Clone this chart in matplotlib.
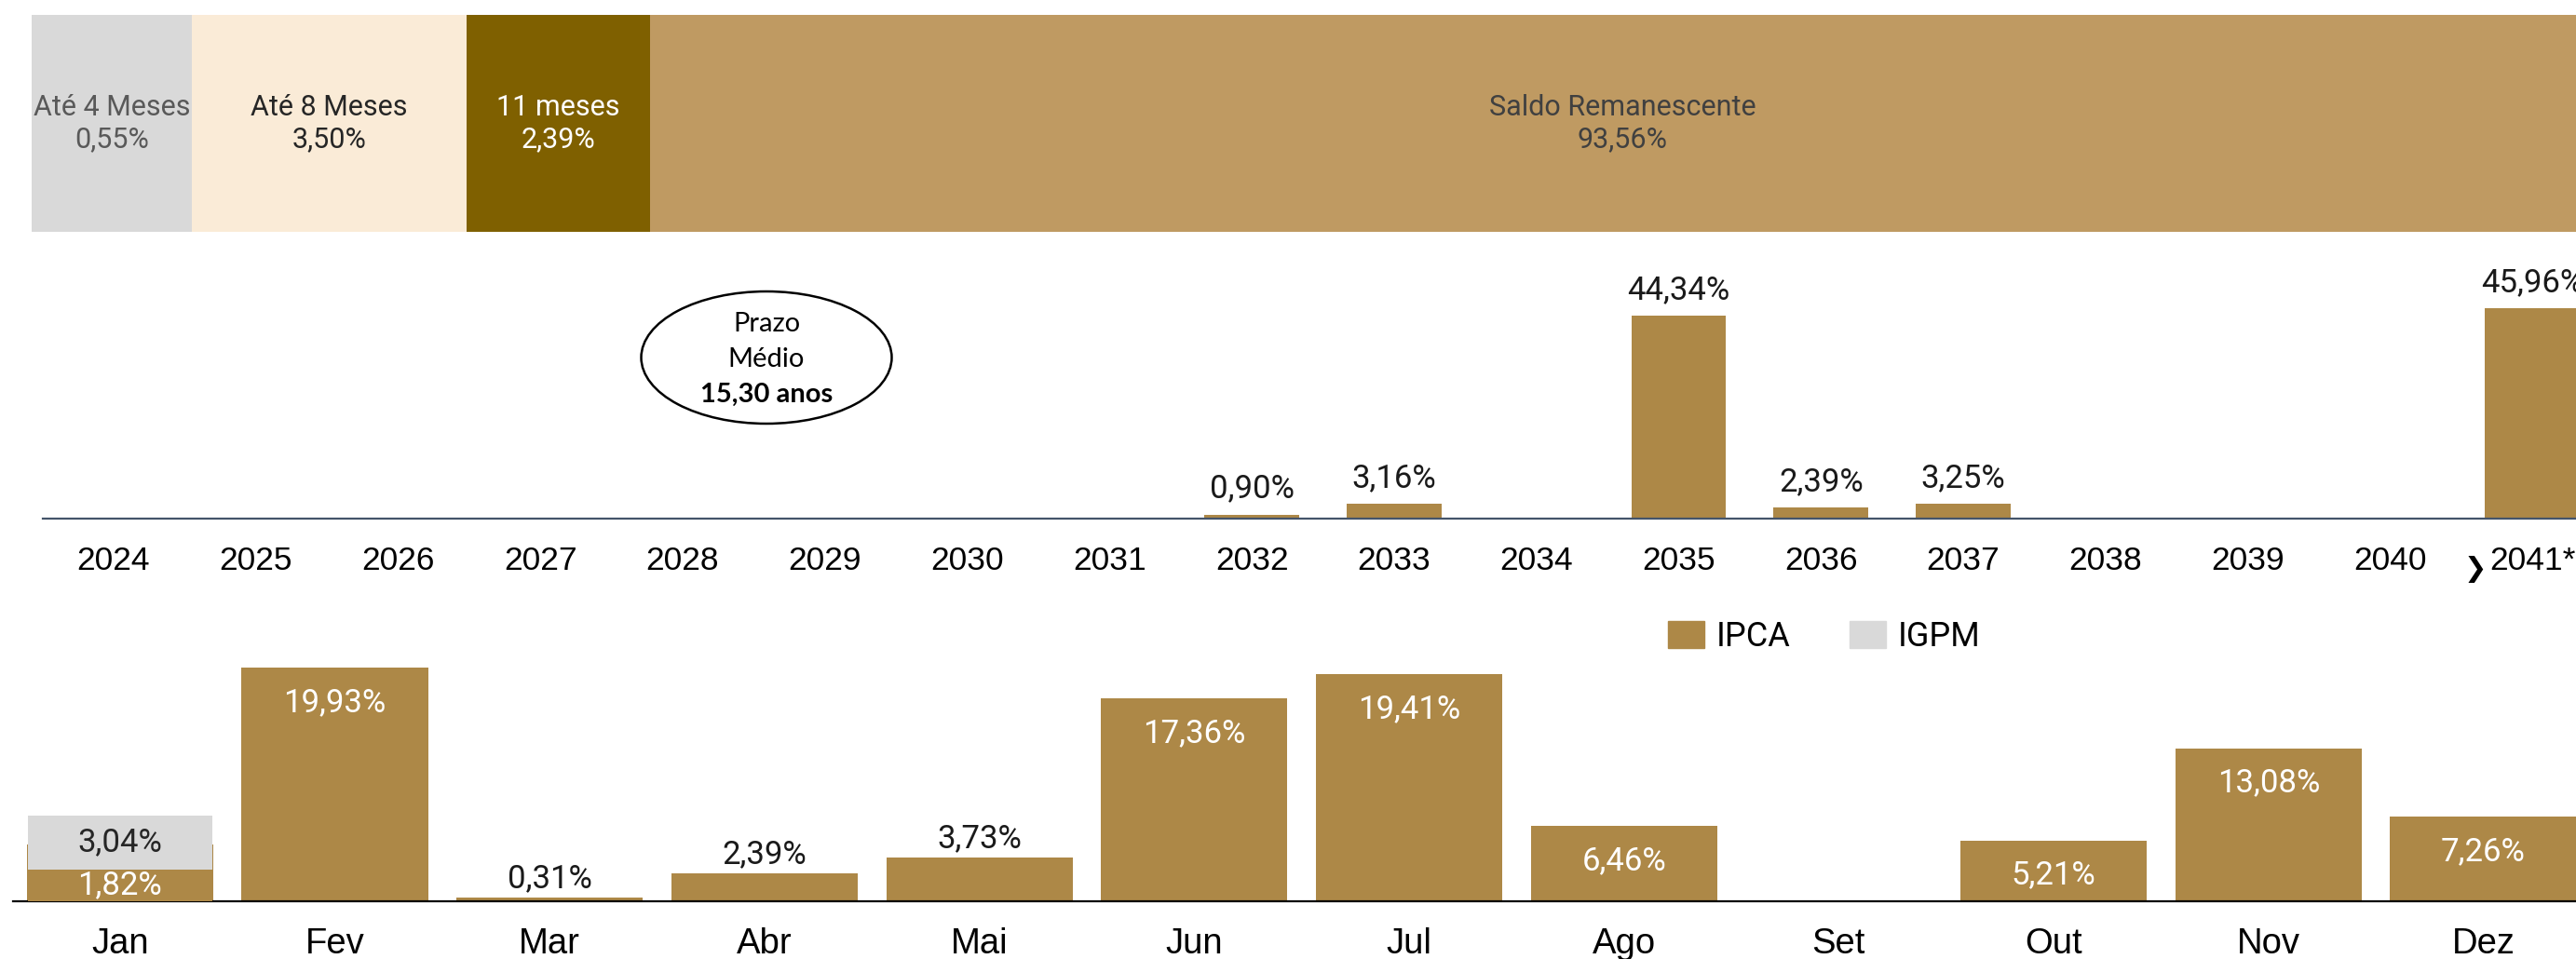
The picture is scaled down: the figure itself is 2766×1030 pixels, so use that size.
import matplotlib
matplotlib.use("Agg")
import matplotlib.pyplot as plt
from matplotlib.patches import Ellipse, Patch

# --- data ---
prazo_labels = ["Até 4 Meses", "Até 8 Meses", "11 meses", "Saldo Remanescente"]
prazo_values = [0.55, 3.50, 2.39, 93.56]

anos = ["2024", "2025", "2026", "2027", "2028", "2029", "2030", "2031", "2032",
        "2033", "2034", "2035", "2036", "2037", "2038", "2039", "2040", "2041*"]
vencimentos = [0, 0, 0, 0, 0, 0, 0, 0, 0.90, 3.16, 0, 44.34, 2.39, 3.25, 0, 0, 0, 45.96]

meses = ["Jan", "Fev", "Mar", "Abr", "Mai", "Jun", "Jul", "Ago", "Set", "Out", "Nov", "Dez"]
ipca = [1.82, 19.93, 0.31, 2.39, 3.73, 17.36, 19.41, 6.46, 0, 5.21, 13.08, 7.26]
igpm = [3.04, 0, 0, 0, 0, 0, 0, 0, 0, 0, 0, 0]

prazo_medio = "15,30 anos"

# --- layout / style ---
W, H = 2766, 1030
top_spans = [172, 295, 197, 2088]  # drawn widths of the top segments (px)
top_colors = ["#D9D9D9", "#FAEBD7", "#7F6000", "#BF9A62"]
top_text_colors = ["#595959", "#262626", "white", "#404040"]
GOLD = "#AD8847"
GRAY = "#D9D9D9"
VAL_FONT = "Roboto"
AX_FONT = "Liberation Sans"


def fmt(v):
    return f"{v:.2f}".replace(".", ",") + "%"


def px_axes(fig, left, right, top, bottom):
    return fig.add_axes([left / W, 1 - bottom / H, (right - left) / W, (bottom - top) / H])


fig = plt.figure(figsize=(W / 100, H / 100), dpi=100)

# ---- top stacked bar ----
ax_top = px_axes(fig, 0, W, 16, 249)
ax_top.set_xlim(0, W)
ax_top.set_ylim(0, 1)
left = 34
for lab, val, span, c, tc in zip(prazo_labels, prazo_values, top_spans, top_colors, top_text_colors):
    ax_top.barh(0.5, span, left=left, height=1, color=c)
    ax_top.text(left + span / 2, 0.5, f"{lab}\n{fmt(val)}", ha="center", va="center",
                color=tc, fontsize=22, family=VAL_FONT, linespacing=1.2)
    left += span
ax_top.axis("off")

# ---- middle: vencimentos por ano ----
x0_mid, step_mid = 121.7, 152.8
ax_mid = px_axes(fig, 46, W, 557 - 50 * 4.917, 557)
ax_mid.set_xlim((46 - x0_mid) / step_mid, (W - x0_mid) / step_mid)
ax_mid.set_ylim(0, 50)
xs = list(range(len(anos)))
ax_mid.bar(xs, vencimentos, width=0.667, color=GOLD)
for i, v in enumerate(vencimentos):
    if v > 0:
        ax_mid.annotate(fmt(v), xy=(i, v), xytext=(0, 13), textcoords="offset points",
                        ha="center", va="baseline", fontsize=25, family=VAL_FONT,
                        color="#1a1a1a", annotation_clip=False)
ax_mid.set_xticks(xs)
ax_mid.set_xticklabels(anos, fontsize=25.5, family=AX_FONT)
ax_mid.tick_params(axis="x", length=0, pad=21)
ax_mid.set_yticks([])
for s in ["top", "left", "right"]:
    ax_mid.spines[s].set_visible(False)
ax_mid.spines["bottom"].set_color("#44546A")
ax_mid.spines["bottom"].set_linewidth(1.6)
ax_mid.annotate("\u276F", xy=(len(anos) - 1, 0), xycoords=("data", "axes fraction"),
                xytext=(-44, -39), textcoords="offset points", ha="center", va="center",
                fontsize=21, family="DejaVu Sans", fontweight="bold", annotation_clip=False)

# prazo medio bubble
ell = Ellipse((823 / W, 1 - 384 / H), 269 / W, 142 / H, transform=fig.transFigure,
              facecolor="white", edgecolor="black", linewidth=1.8)
fig.patches.append(ell)
fig.text(823 / W, 1 - 348 / H, "Prazo", ha="center", va="center", fontsize=21, family="Lato")
fig.text(823 / W, 1 - 386 / H, "Médio", ha="center", va="center", fontsize=21, family="Lato")
fig.text(823 / W, 1 - 424 / H, prazo_medio, ha="center", va="center", fontsize=21,
         family="Lato", fontweight="bold")

# ---- bottom: por mes ----
x0_bot, step_bot = 128.8, 230.7
ax_bot = px_axes(fig, 14, W, 968 - 25 * 12.57, 968)
ax_bot.set_xlim((14 - x0_bot) / step_bot, (W - x0_bot) / step_bot)
ax_bot.set_ylim(0, 25)
xm = list(range(len(meses)))
total = [a + b for a, b in zip(ipca, igpm)]
ax_bot.bar(xm, total, width=0.867, color=GOLD)
for i, v in enumerate(total):
    if v <= 0 or igpm[i] > 0:
        continue
    if v >= 5:
        ax_bot.annotate(fmt(v), xy=(i, v), xytext=(0, -27), textcoords="offset points",
                        ha="center", va="center", fontsize=25, family=VAL_FONT, color="white")
    else:
        ax_bot.annotate(fmt(v), xy=(i, v), xytext=(0, 8), textcoords="offset points",
                        ha="center", va="baseline", fontsize=25, family=VAL_FONT, color="#1a1a1a")
ax_bot.set_xticks(xm)
ax_bot.set_xticklabels(meses, fontsize=27.5, family=AX_FONT)
ax_bot.tick_params(axis="x", length=0, pad=20)
ax_bot.set_yticks([])
for s in ["top", "left", "right"]:
    ax_bot.spines[s].set_visible(False)
ax_bot.spines["bottom"].set_color("black")
ax_bot.spines["bottom"].set_linewidth(1.6)

# months with IGPM: stacked detail on a secondary scale
ax_tw = ax_bot.twinx()
ax_tw.set_ylim(0, 25 / 1.506)
for i in xm:
    if igpm[i] > 0:
        ax_tw.bar(i, ipca[i], width=0.86, color=GOLD)
        ax_tw.bar(i, igpm[i], bottom=ipca[i], width=0.86, color=GRAY)
        ax_tw.text(i, ipca[i] / 2, fmt(ipca[i]), ha="center", va="center",
                   fontsize=25, family=VAL_FONT, color="white")
        ax_tw.text(i, ipca[i] + igpm[i] / 2, fmt(igpm[i]), ha="center", va="center",
                   fontsize=25, family=VAL_FONT, color="#262626")
ax_tw.axis("off")

handles = [Patch(color=GOLD, label="IPCA"), Patch(color=GRAY, label="IGPM")]
fig.legend(handles=handles, loc="center left", bbox_to_anchor=(1791 / W, 1 - 684 / H),
           ncol=2, frameon=False, borderpad=0, borderaxespad=0, handlelength=1.08,
           handleheight=0.86, handletextpad=0.36, columnspacing=1.75,
           prop={"family": VAL_FONT, "size": 26})

fig.savefig("out.png", dpi=100)
